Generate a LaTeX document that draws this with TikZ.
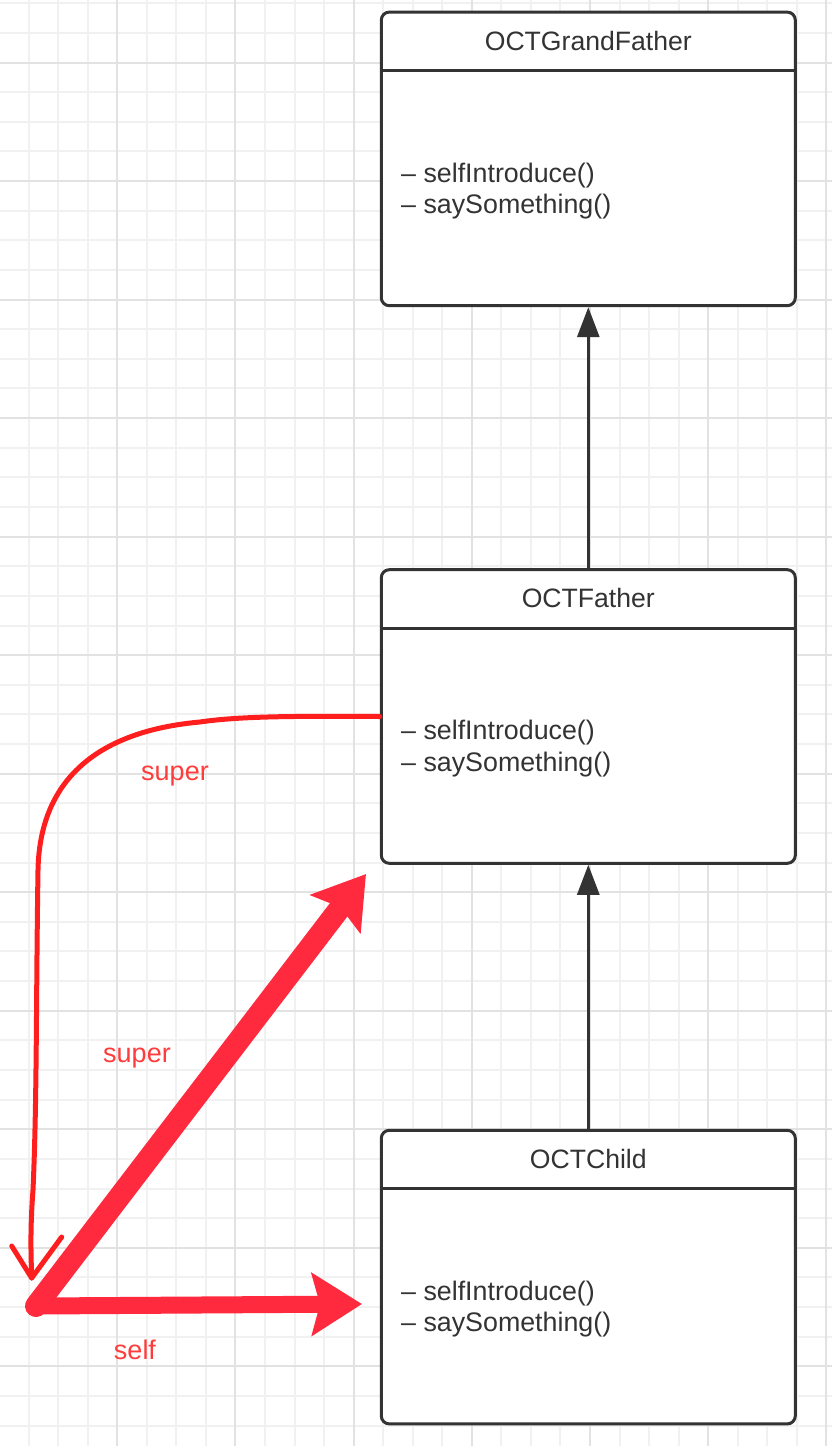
\documentclass[tikz,border=0pt]{standalone}
\usepackage{fontspec}
\setmainfont{Liberation Sans}
\usepackage{xcolor}
\usetikzlibrary{arrows.meta,positioning}
\definecolor{gridminor}{RGB}{241,241,241}
\definecolor{gridmajor}{RGB}{226,226,226}
\definecolor{boxline}{RGB}{51,51,51}
\definecolor{markred}{RGB}{255,42,62}
\definecolor{penred}{RGB}{255,30,30}
\definecolor{labelred}{RGB}{255,60,60}
\tikzset{
  classbox/.style={draw=boxline, line width=1.5pt, rounded corners=4pt, fill=white, minimum width=207pt, minimum height=146.8pt, inner sep=0pt},
  classname/.style={anchor=north, minimum width=207pt, minimum height=30pt, inner sep=0pt, outer sep=0pt, font=\fontsize{13.3}{15.5}\selectfont, text=boxline},
  methods/.style={anchor=west, align=left, inner sep=0pt, font=\fontsize{13.4}{15.6}\selectfont, text=boxline},
  inherit/.style={-{Triangle[length=15pt,width=11pt]}, draw=boxline, line width=1.5pt},
  bigarrow/.style={-{Stealth[length=25pt,width=31pt,inset=4pt]}, draw=markred, line width=8.5pt, line cap=round},
  handline/.style={draw=penred, line width=2.5pt, line cap=round, line join=round},
  redlabel/.style={text=labelred, font=\fontsize{13.5}{16}\selectfont}
}

\begin{document}
\begin{tikzpicture}[x=0.5pt, y=-0.5pt]
\useasboundingbox (0,0) rectangle (832,1446);
% background grid
\begin{scope}
\clip (0,0) rectangle (832,1446);
\foreach \k in {0,...,28} \draw[gridminor, line width=1pt] ({-1+29.55*\k},0) -- ({-1+29.55*\k},1446);
\foreach \k in {0,...,48} \draw[gridminor, line width=1pt] (0,{3.3+29.63*\k}) -- (832,{3.3+29.63*\k});
\foreach \k in {0,4,...,28} \draw[gridmajor, line width=1pt] ({-1+29.55*\k},0) -- ({-1+29.55*\k},1446);
\foreach \k in {2,6,...,46} \draw[gridmajor, line width=1pt] (0,{3.3+29.63*\k}) -- (832,{3.3+29.63*\k});
\end{scope}

% classes
\node[classbox] (grandfather) at (588.3,158.9) {};
\node[classbox, below=130.5pt of grandfather] (father) {};
\node[classbox, below=132pt of father] (child) {};

\node[classname] (grandname) at (grandfather.north) {OCTGrandFather};
\node[classname] (fathername) at (father.north) {OCTFather};
\node[classname] (childname) at (child.north) {OCTChild};
\draw[boxline, line width=1.5pt] (grandname.south west) -- (grandname.south east);
\draw[boxline, line width=1.5pt] (fathername.south west) -- (fathername.south east);
\draw[boxline, line width=1.5pt] (childname.south west) -- (childname.south east);

\node[methods] (grandmethods) at ([xshift=10.5pt,yshift=-16pt]grandfather.west) {– selfIntroduce()\\– saySomething()};
\node[methods] (fathermethods) at ([xshift=10.5pt,yshift=-16pt]father.west) {– selfIntroduce()\\– saySomething()};
\node[methods] (childmethods) at ([xshift=10.5pt,yshift=-16pt]child.west) {– selfIntroduce()\\– saySomething()};

% inheritance
\draw[inherit] (father.north) -- (grandfather.south);
\draw[inherit] (child.north) -- (father.south);

% red marks
\coordinate (pivot) at (36,1306);
\coordinate (selftip) at (362,1304);
\coordinate (supertip) at (366,874);
\coordinate (superend) at (31.7,1278);

\draw[handline] (father.west) .. controls (300,716) and (240,716) .. (200,722)
  .. controls (110,730) and (40,770) .. (38,870)
  .. controls (36,1000) and (37,1100) .. (33,1190)
  .. controls (30,1230) and (31,1255) .. (superend);
\draw[handline] ([shift={(-20,-32)}]superend) -- (superend) -- ++(30,-41);

\draw[bigarrow, line width=11pt] (pivot) -- (supertip);
\draw[bigarrow] (pivot) -- (selftip);

\node[redlabel] (superlabel) at (175,776) {super};
\node[redlabel] (callsuper) at (137,1058) {super};
\node[redlabel] (callself) at (135,1350) {self};
\end{tikzpicture}
\end{document}
